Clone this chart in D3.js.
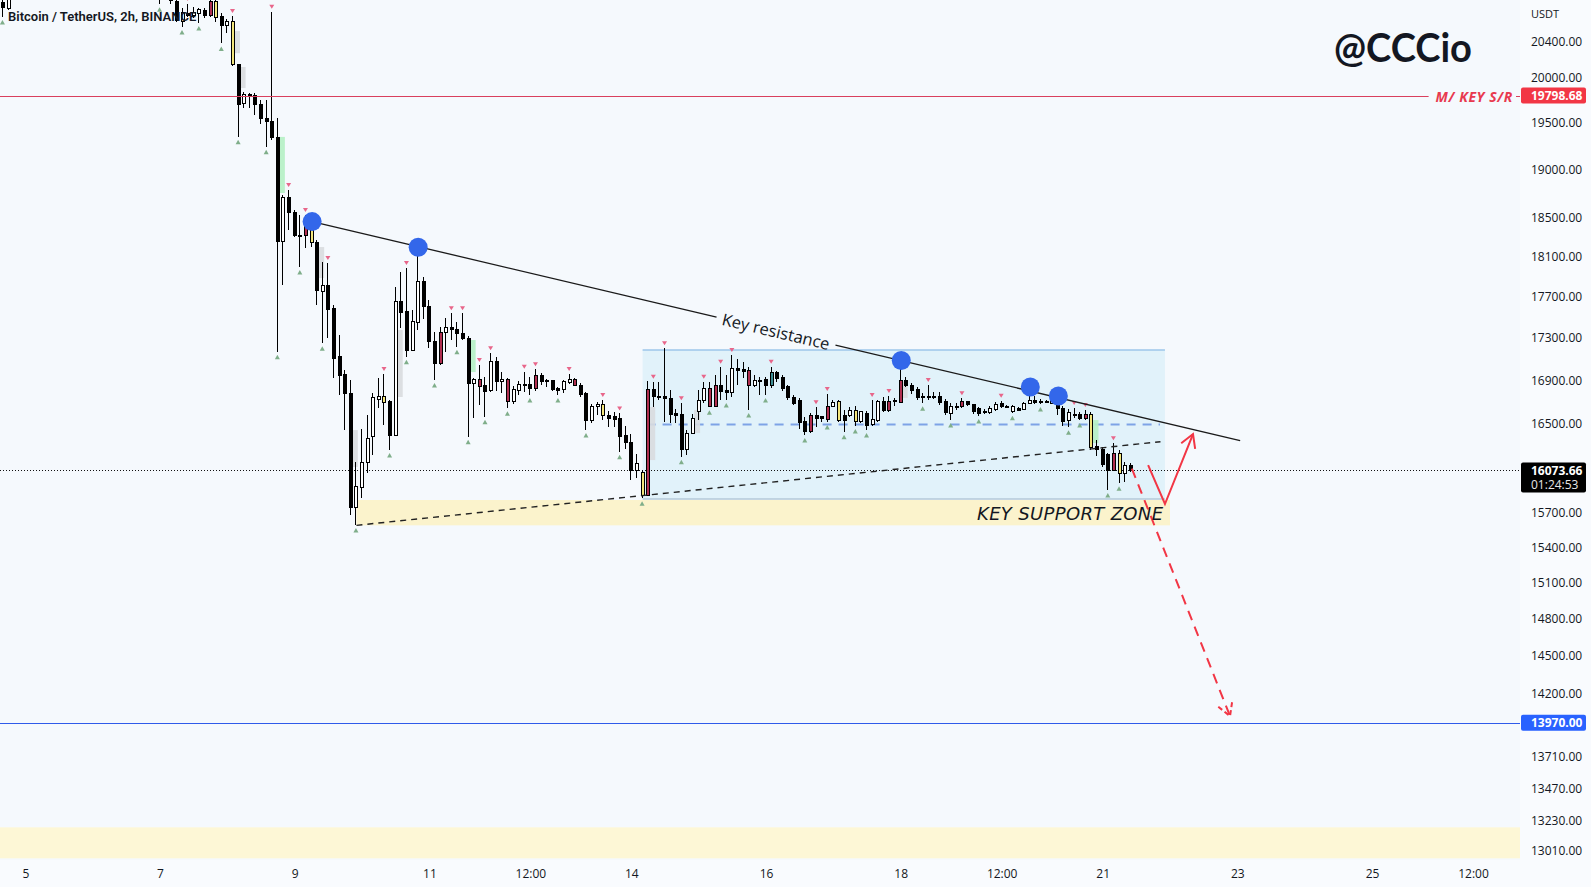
<!DOCTYPE html>
<html><head><meta charset="utf-8">
<script src="https://cdn.jsdelivr.net/npm/d3@7"></script>
<style>
html,body{margin:0;padding:0;background:#f6f9fd;overflow:hidden}
svg{display:block}
</style></head><body>
<svg id="chart" width="1591" height="887"></svg>
<script>
// ---------- DATA (BTCUSDT, Binance, 2h candles, first candle Nov 4 2022 16:00 UTC) ----------
const opens = [
20844,20775,20937,21050,21150,21120,21180,21260,21230,21280,
21400,21330,21300,21280,21250,21270,21320,21350,21290,21240,
21180,21200,21130,21090,21030,20990,21010,20960,20940,20900,
20930,20856,20636,20725,20705,20725,20755,20705,20859,20687,
20590,20628,20138,19716,19815,19804,19705,19549,19513,19345,
18260,18702,18547,18321,18311,18403,18240,17752,17818,17583,
17123,16958,16777,15741,15925,16140,16377,16724,16752,16699,
16392,17654,17556,17186,17449,17851,17606,17266,17060,17352,
17404,17385,17346,17298,16871,16911,16846,16801,17075,16886,
16911,16699,16808,16864,16864,16824,16940,16895,16893,16824,
16815,16880,16911,16855,16771,16530,16659,16669,16571,16562,
16548,16392,16323,16077,16053,15855,16817,16752,16752,16731,
16591,16585,16257,16408,16606,16708,16827,16653,16846,16801,
16783,17012,17003,16996,16855,16902,16909,16846,16971,16927,
16839,16740,16715,16514,16422,16576,16561,16536,16659,16699,
16576,16576,16622,16514,16591,16493,16530,16699,16615,16699,
16690,16893,16855,16815,16746,16740,16746,16752,16699,16591,
16659,16653,16699,16669,16638,16606,16597,16628,16678,16659,
16606,16638,16628,16684,16715,16699,16690,16684,16731,16638,
16530,16585,16585,16546,16585,16287,16263,16212,16077,16227,
16048,16113];
const highs = [
20914,20995,21080,21200,21250,21200,21300,21350,21300,21470,
21450,21380,21360,21320,21300,21350,21400,21380,21330,21290,
21250,21230,21180,21140,21080,21060,21050,21000,21010,20960,
20960,20950,20786,20833,20801,20783,20783,20890,20879,20728,
20656,20694,20150,19837,19830,19826,19749,19749,20743,19549,
18733,18785,18578,18527,18527,18475,18270,18051,18038,17622,
17330,16996,16902,16151,16447,16576,16780,16921,16958,16715,
17802,17951,17988,17573,18202,17901,17671,17362,17410,17492,
17541,17459,17541,17320,16921,17044,16933,17155,17117,16980,
16921,16846,16895,16980,16933,17003,16971,16909,16902,16833,
16902,16958,16924,16871,16790,16678,16699,16715,16613,16604,
16591,16475,16402,16221,16077,16893,16886,16886,17202,16808,
16628,16684,16438,16582,16808,16886,16886,16949,17027,16949,
17139,17098,17075,17022,16949,16927,16933,17027,16989,16949,
16855,16762,16734,16561,16591,16647,16567,16771,16715,16715,
16622,16653,16659,16615,16615,16715,16715,16746,16752,16731,
17003,16933,16871,16839,16777,16855,16792,16792,16722,16684,
16684,16731,16708,16678,16653,16628,16659,16699,16708,16669,
16669,16653,16699,16855,16752,16722,16715,16752,16752,16659,
16628,16640,16606,16622,16604,16347,16287,16227,16317,16257,
16151,16137];
const lows = [
20683,20763,20920,21020,21080,21050,21150,21200,21150,21250,
21300,21250,21230,21200,21180,21220,21280,21260,21210,21150,
21120,21100,21050,21000,20950,20940,20920,20900,20830,20890,
20833,20625,20567,20683,20668,20614,20668,20683,20628,20381,
20502,20127,19351,19658,19662,19585,19488,19243,19315,17170,
17818,18372,18301,17998,18189,18202,17622,17250,17301,16921,
16762,16438,15680,15593,15829,16053,16212,16640,16484,16257,
16392,17397,17123,17186,17378,17482,17202,16902,17044,17170,
17282,17218,17282,16377,16546,16669,16561,16792,16801,16777,
16638,16678,16762,16792,16762,16801,16855,16833,16801,16762,
16777,16864,16846,16743,16438,16505,16576,16530,16466,16466,
16242,16266,15988,16006,15826,15846,16647,16715,16514,16500,
16500,16196,16212,16400,16530,16684,16647,16650,16715,16715,
16740,16855,16918,16622,16839,16762,16762,16824,16886,16801,
16715,16669,16444,16392,16408,16469,16514,16511,16647,16514,
16422,16561,16475,16500,16438,16475,16514,16606,16606,16659,
16684,16839,16771,16715,16684,16715,16722,16669,16576,16530,
16622,16638,16659,16585,16567,16585,16585,16615,16638,16638,
16597,16615,16622,16678,16678,16678,16687,16678,16576,16475,
16463,16546,16530,16530,16257,16203,16101,15899,16071,15959,
15973,16060];
const closes = [
20786,20937,21050,21150,21120,21180,21260,21230,21280,21400,
21330,21300,21280,21250,21270,21320,21350,21290,21240,21180,
21200,21130,21090,21030,20990,21010,20960,20940,20900,20930,
20870,20640,20729,20705,20732,20763,20694,20859,20680,20590,
20628,20138,19705,19815,19801,19705,19549,19513,19345,18253,
18702,18547,18321,18301,18406,18240,17769,17818,17573,17110,
16949,16780,15741,15930,16140,16365,16734,16752,16690,16392,
17654,17544,17186,17459,17851,17603,17266,17060,17352,17404,
17385,17346,17298,16871,16911,16839,16792,17075,16886,16909,
16699,16815,16864,16855,16824,16940,16886,16886,16815,16801,
16886,16911,16855,16762,16530,16659,16669,16576,16546,16539,
16383,16323,16077,16137,15855,16817,16746,16740,16731,16585,
16576,16257,16408,16546,16715,16824,16653,16846,16792,16783,
17012,16989,16980,16855,16902,16886,16855,16971,16918,16824,
16740,16684,16505,16422,16576,16546,16546,16659,16690,16524,
16530,16615,16514,16606,16484,16536,16699,16615,16699,16706,
16893,16855,16801,16740,16737,16746,16752,16690,16597,16659,
16653,16699,16669,16606,16591,16597,16638,16675,16653,16653,
16659,16622,16684,16708,16690,16690,16699,16731,16638,16514,
16597,16576,16546,16585,16281,16263,16122,16077,16227,16048,
16113,16073.66];

// bar-colour indicator (candle indices)
const redBars = [37,54,78,85,90,95,102,115,126,127,133,144,147,158,160,171,193,198];
const yellowBars = [38,41,55,68,107,114,149,152,194,199];
const tealBars = [137];
// fractal pivots (candle indices)
const pivotHighs = [33,41,48,51,54,58,68,72,80,82,85,87,93,95,101,107,110,116,118,121,125,128,130,137,145,147,155,158,165,171,178,191,193,198];
const pivotLows = [0,28,32,35,39,42,47,49,53,57,63,69,72,77,81,83,86,90,94,99,104,110,114,121,126,129,133,136,143,147,150,152,154,164,169,174,180,185,190,192,197,199];
// imbalance boxes: [candle index, top price, bottom price, kind]
const imbalances = [[41,20521,20270,"grey"],[42,20115,19881,"grey"],[49,19348,18754,"green"],[56,18199,17888,"grey"],
  [62,16438,16104,"grey"],[70,17378,16743,"grey"],[83,17282,16977,"green"],[115,16650,16166,"grey"],
  [123,16622,16411,"grey"],[160,16883,16734,"grey"],[194,16530,16320,"green"]];

// drawings (bar index, price)
const keyLevel = 19798.68;
const targetLevel = 13970;
const lastPrice = 16073.66;
const countdown = "01:24:53";
const rangeBox = {from:114, to:207.1, top:17186, bottom:15820};
const supportZone = {from:63, to:208, top:15820, bottom:15590};
const bottomZone = {top:13180, bottom:12955};
const resistanceLine = [[55.1,18458],[220.5,16342]];
const supportTrend = [[63,15590],[206.3,16332]];
const touchPoints = [[55.1,18458],[74,18196],[160.1,17087],[183.1,16836],[188.1,16752]];
const bouncePath = [[204.1,16121],[207.1,15776],[212.1,16402]];
const breakdownPath = [[201.2,16090],[218.7,14021]];

const priceTicks = [20400,20000,19500,19000,18500,18100,17700,17300,16900,16500,15700,15400,15100,14800,14500,14200,13710,13470,13230,13010];
const timeTicks = [[2022,10,5,0],[2022,10,7,0],[2022,10,9,0],[2022,10,11,0],[2022,10,12,12],[2022,10,14,0],[2022,10,16,0],[2022,10,18,0],[2022,10,19,12],[2022,10,21,0],[2022,10,23,0],[2022,10,25,0],[2022,10,26,12]];
const timeLabels = ["5","7","9","11","12:00","14","16","18","12:00","21","23","25","12:00"];

// ---------- CHART ----------
const W=1591, H=887, plotR=1520, plotB=860;
const FONT = "'Open Sans', Roboto, 'DejaVu Sans', sans-serif";
const svg = d3.select("#chart");
const x = d3.scaleUtc().domain([Date.UTC(2022,10,5), Date.UTC(2022,10,25)]).range([25.4, 1372]);
const y = d3.scaleLog().domain([13010, 20400]).range([850.7, 41.7]);
const t0 = Date.UTC(2022,10,4,16), STEP = 2*3600*1000;
const xi = i => x(new Date(t0 + i*STEP));

svg.append("rect").attr("width",W).attr("height",H).attr("fill","#f9fbfe");
svg.append("rect").attr("width",plotR).attr("height",plotB).attr("fill","#f5f9fd");
svg.append("defs").append("clipPath").attr("id","clip").append("rect").attr("width",plotR).attr("height",plotB);
const g = svg.append("g").attr("clip-path","url(#clip)");

// zones
g.append("rect").attr("x",0).attr("width",plotR).attr("y",y(bottomZone.top)).attr("height",y(bottomZone.bottom)-y(bottomZone.top)).attr("fill","#fdf7d6");
g.append("rect").attr("x",xi(rangeBox.from)).attr("width",xi(rangeBox.to)-xi(rangeBox.from))
  .attr("y",y(rangeBox.top)).attr("height",y(rangeBox.bottom)-y(rangeBox.top)).attr("fill","#e1f2fa");
g.append("line").attr("x1",xi(rangeBox.from)).attr("x2",xi(rangeBox.to)).attr("y1",y(rangeBox.top)).attr("y2",y(rangeBox.top)).attr("stroke","#9cc6ea").attr("stroke-width",1.5);
g.append("line").attr("x1",xi(rangeBox.from)).attr("x2",xi(rangeBox.to)).attr("y1",y(rangeBox.bottom)).attr("y2",y(rangeBox.bottom)).attr("stroke","#b3c9d9").attr("stroke-width",1.5);
g.append("rect").attr("x",xi(supportZone.from)).attr("width",xi(supportZone.to)-xi(supportZone.from))
  .attr("y",y(supportZone.top)+1).attr("height",y(supportZone.bottom)-y(supportZone.top)-1).attr("fill","#fbf3cc");
const mid = Math.sqrt(rangeBox.top*rangeBox.bottom);
g.append("line").attr("x1",xi(rangeBox.from)+4).attr("x2",xi(rangeBox.to)-5).attr("y1",y(mid)).attr("y2",y(mid))
  .attr("stroke","#7ea3e6").attr("stroke-width",2).attr("stroke-dasharray","9,7");

// horizontal levels
g.append("line").attr("x1",0).attr("x2",plotR).attr("y1",Math.round(y(targetLevel))+0.5).attr("y2",Math.round(y(targetLevel))+0.5).attr("stroke","#2f5bea").attr("stroke-width",1);
g.append("line").attr("x1",0).attr("x2",plotR).attr("y1",Math.round(y(lastPrice))+0.5).attr("y2",Math.round(y(lastPrice))+0.5).attr("stroke","#111").attr("stroke-width",1).attr("stroke-dasharray","1,2");

// imbalance boxes
g.selectAll(".imb").data(imbalances).enter().append("rect")
  .attr("x",d=>xi(d[0])+1).attr("width",6).attr("y",d=>y(d[1])).attr("height",d=>y(d[2])-y(d[1]))
  .attr("fill",d=>d[3]==="green"?"#b5efc4":"#d9dcdf").attr("opacity",0.9);

// candles
const idx = d3.range(opens.length);
const cg = g.append("g").attr("shape-rendering","crispEdges");
cg.selectAll(".wick").data(idx).enter().append("line")
  .attr("x1",i=>Math.round(xi(i))-0.5).attr("x2",i=>Math.round(xi(i))-0.5)
  .attr("y1",i=>y(highs[i])).attr("y2",i=>y(lows[i])).attr("stroke","#000").attr("stroke-width",1);
function bodyFill(i){
  if(redBars.includes(i)) return "#b02f50";
  if(yellowBars.includes(i)) return "#f3e67c";
  if(tealBars.includes(i)) return "#3d8f95";
  return closes[i] >= opens[i] ? "#ffffff" : "#000000";
}
cg.selectAll(".body").data(idx).enter().append("rect")
  .attr("x",i=>Math.round(xi(i))-1.5).attr("width",3)
  .attr("y",i=>y(Math.max(opens[i],closes[i])))
  .attr("height",i=>Math.max(1, y(Math.min(opens[i],closes[i]))-y(Math.max(opens[i],closes[i]))))
  .attr("fill",bodyFill).attr("stroke","#000").attr("stroke-width",1);

// fractal markers
g.selectAll(".ph").data(pivotHighs).enter().append("path")
  .attr("d",i=>{const cx=xi(i)-0.5, t=y(highs[i])-7; return `M${cx-2.5},${t}L${cx+2.5},${t}L${cx},${t+4}Z`;})
  .attr("fill","#e8668a");
g.selectAll(".pl").data(pivotLows).enter().append("path")
  .attr("d",i=>{const cx=xi(i)-0.5, b=y(lows[i])+7.5; return `M${cx-2.5},${b}L${cx+2.5},${b}L${cx},${b-4.5}Z`;})
  .attr("fill","#7fae8a");

// support trend (dashed)
g.append("line").attr("x1",xi(supportTrend[0][0])).attr("y1",y(supportTrend[0][1]))
  .attr("x2",xi(supportTrend[1][0])).attr("y2",y(supportTrend[1][1]))
  .attr("stroke","#222").attr("stroke-width",1.4).attr("stroke-dasharray","6,5");

// resistance line with label
const rx1=xi(resistanceLine[0][0]), ry1=y(resistanceLine[0][1]), rx2=xi(resistanceLine[1][0]), ry2=y(resistanceLine[1][1]);
const ang = Math.atan2(ry2-ry1, rx2-rx1);
const lx = 776, ly = ry1 + (lx-rx1)*Math.tan(ang);
const lbl = g.append("text").attr("transform",`translate(${lx},${ly}) rotate(${ang*180/Math.PI})`)
  .attr("text-anchor","middle").attr("dominant-baseline","central").attr("font-family",FONT).attr("font-size",16.5)
  .attr("fill","#131722").text("Key resistance");
const half = lbl.node().getComputedTextLength()/2 + 6;
const c=Math.cos(ang), s=Math.sin(ang);
g.append("line").attr("x1",rx1).attr("y1",ry1).attr("x2",lx-half*c).attr("y2",ly-half*s).attr("stroke","#1a1a1a").attr("stroke-width",1.3);
g.append("line").attr("x1",lx+half*c).attr("y1",ly+half*s).attr("x2",rx2).attr("y2",ry2).attr("stroke","#1a1a1a").attr("stroke-width",1.3);

// touch points
g.selectAll(".tp").data(touchPoints).enter().append("circle")
  .attr("cx",d=>xi(d[0])).attr("cy",d=>y(d[1])).attr("r",9.5).attr("fill","#3367ea");

// projections
function arrowHead(p1,p2,len){
  const a=Math.atan2(p2[1]-p1[1],p2[0]-p1[0]);
  const w1=[p2[0]-len*Math.cos(a-Math.PI/6), p2[1]-len*Math.sin(a-Math.PI/6)];
  const w2=[p2[0]-len*Math.cos(a+Math.PI/6), p2[1]-len*Math.sin(a+Math.PI/6)];
  return `M${w1[0]},${w1[1]}L${p2[0]},${p2[1]}L${w2[0]},${w2[1]}`;
}
const bp = bouncePath.map(d=>[xi(d[0]),y(d[1])]);
g.append("path").attr("d",d3.line()(bp)).attr("fill","none").attr("stroke","#f23645").attr("stroke-width",2);
g.append("path").attr("d",arrowHead(bp[1],bp[2],15)).attr("fill","none").attr("stroke","#f23645").attr("stroke-width",2);
const dp = breakdownPath.map(d=>[xi(d[0]),y(d[1])]);
g.append("path").attr("d",d3.line()(dp)).attr("fill","none").attr("stroke","#f23645").attr("stroke-width",2).attr("stroke-dasharray","10,7");
g.append("path").attr("d",arrowHead(dp[0],dp[1],15)).attr("fill","none").attr("stroke","#f23645").attr("stroke-width",2).attr("stroke-dasharray","5,3");

// KEY S/R line with label
const ky = Math.round(y(keyLevel))+0.5;
const kt = g.append("text").attr("x",1513).attr("y",ky).attr("text-anchor","end").attr("dominant-baseline","central")
  .attr("font-family",FONT).attr("font-style","italic").attr("font-weight",700).attr("font-size",14)
  .attr("letter-spacing",0.6).attr("fill","#e8394f").text("M/ KEY S/R");
const kw = kt.node().getComputedTextLength();
g.append("line").attr("x1",0).attr("x2",1513-kw-7).attr("y1",ky).attr("y2",ky).attr("stroke","#d9405e").attr("stroke-width",1);
g.append("line").attr("x1",1516).attr("x2",plotR).attr("y1",ky).attr("y2",ky).attr("stroke","#d9405e").attr("stroke-width",1);

// text annotations
g.append("text").attr("x",977).attr("y",520).attr("font-family","'DejaVu Sans', sans-serif").attr("font-style","italic")
  .attr("font-size",18).attr("textLength",186).attr("lengthAdjust","spacing").attr("fill","#131722").text("KEY SUPPORT ZONE");
svg.append("text").attr("x",1334).attr("y",62).attr("font-family","Lato, 'Open Sans', sans-serif").attr("font-weight",700)
  .attr("font-size",41).attr("textLength",138).attr("lengthAdjust","spacingAndGlyphs").attr("fill","#131722").text("@CCCio");
svg.append("text").attr("x",8).attr("y",21).attr("font-family","Roboto, sans-serif").attr("font-weight",600)
  .attr("font-size",13).attr("fill","#131722").text("Bitcoin / TetherUS, 2h, BINANCE");

// axes
const ya = svg.append("g").attr("transform",`translate(${plotR},0)`)
  .call(d3.axisRight(y).tickValues(priceTicks).tickFormat(d3.format(".2f")).tickSize(0).tickPadding(11));
ya.select(".domain").remove();
ya.selectAll("text").attr("font-family",FONT).attr("font-size",12).attr("fill","#131722");
svg.append("text").attr("x",1531).attr("y",18).attr("font-family",FONT).attr("font-size",11).attr("fill","#131722").text("USDT");

const xa = svg.append("g").attr("transform",`translate(0,${plotB})`)
  .call(d3.axisBottom(x).tickValues(timeTicks.map(d=>new Date(Date.UTC(...d)))).tickFormat((d,i)=>timeLabels[i]).tickSize(0).tickPadding(9));
xa.select(".domain").remove();
xa.selectAll("text").attr("font-family",FONT).attr("font-size",12).attr("fill","#131722");

// price tags
function tag(price, fill, lines){
  const cy = y(price);
  const h = lines.length===1 ? 16 : 30;
  svg.append("rect").attr("x",1521).attr("y",cy-8).attr("width",65).attr("height",h).attr("rx",2).attr("fill",fill);
  lines.forEach((t,k)=>{
    svg.append("text").attr("x",1531).attr("y",cy+ k*14).attr("dominant-baseline","central")
      .attr("font-family",FONT).attr("font-size",12).attr("font-weight",k===0?700:400)
      .attr("fill",k===0?"#ffffff":"#e6e6e6").text(t);
  });
}
tag(keyLevel,"#f23645",[d3.format(".2f")(keyLevel)]);
tag(lastPrice,"#000000",[d3.format(".2f")(lastPrice),countdown]);
tag(targetLevel,"#2962ff",[d3.format(".2f")(targetLevel)]);
</script>
</body></html>
